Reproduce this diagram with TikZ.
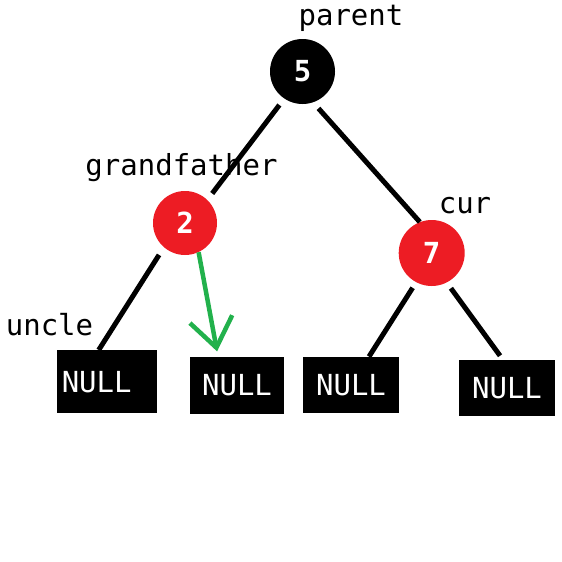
\documentclass[tikz,border=0pt]{standalone}
\usepackage{fontspec}
\setmonofont{DejaVu Sans Mono}
\usetikzlibrary{arrows.meta}
\definecolor{paintred}{RGB}{237,28,36}
\definecolor{paintgreen}{RGB}{34,177,76}

\begin{document}
\begin{tikzpicture}[
    x=1pt, y=-1pt,
    every node/.style={font=\ttfamily\fontsize{29}{34}\selectfont},
    rednode/.style={circle, fill=paintred, text=white, minimum size=65pt, inner sep=0pt, font=\ttfamily\bfseries\fontsize{29}{34}\selectfont},
    blacknode/.style={circle, fill=black, text=white, minimum size=65pt, inner sep=0pt, font=\ttfamily\bfseries\fontsize{29}{34}\selectfont},
    nullbox/.style={rectangle, fill=black, text=white, inner sep=0pt},
    edge/.style={line width=5pt},
    greenarrow/.style={-{Straight Barb[length=29pt, width=43pt]}, paintgreen, line width=4.5pt},
    tag/.style={anchor=base}
]
    \useasboundingbox (0,0) rectangle (562,562);

    \node[blacknode] (five) at (302.5,71.5) {5};
    \node[rednode, minimum size=64pt] (two) at (185,223) {2};
    \node[rednode, minimum size=66pt] (seven) at (431.7,253) {7};

    \node[nullbox, minimum width=100pt, minimum height=63pt] (null1) at (106.7,381.7) {NULL\kern20pt};
    \node[nullbox, minimum width=94pt, minimum height=57pt] (null2) at (237,385) {NULL};
    \node[nullbox, minimum width=96pt, minimum height=56pt] (null3) at (351,384.8) {NULL};
    \node[nullbox, minimum width=96pt, minimum height=56pt] (null4) at (507,388) {NULL};

    \node[tag] (parentlbl) at (351,25) {parent};
    \node[tag] (grandlbl) at (181.5,175) {grandfather};
    \node[tag] (curlbl) at (465,213) {cur};
    \node[tag] (unclelbl) at (49.5,335) {uncle};

    \draw[edge, shorten <=8pt, shorten >=8pt] (five.-124) -- (two.46);
    \draw[edge, shorten <=8pt] (five.-71) -- (seven.111);
    \draw[edge, shorten <=9pt] (two.-131) -- ([xshift=-8pt]null1.north);
    \draw[edge, shorten <=6.5pt] (seven.-118) -- ([xshift=18pt]null3.north);
    \draw[edge, shorten <=7pt, shorten >=5pt] (seven.-63) -- ([xshift=-4pt]null4.north);
    \draw[greenarrow, shorten >=5pt] (two.-65) -- ([xshift=-19pt]null2.north);
\end{tikzpicture}
\end{document}
